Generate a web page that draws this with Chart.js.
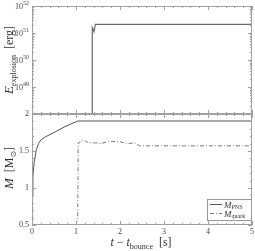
<!DOCTYPE html>
<html><head><meta charset="utf-8">
<script src="https://cdn.jsdelivr.net/npm/chart.js@4/dist/chart.umd.min.js"></script>
<style>
html,body{margin:0;padding:0;background:#fff;}
#wrap{position:relative;width:255px;height:251px;}
canvas{position:absolute;left:0;top:0;}
</style></head>
<body><div id="wrap"><canvas id="c1" width="255" height="251"></canvas><canvas id="c2" width="255" height="251"></canvas></div>
<script>
// ---- data ----
const tExp = [1.37, 1.37, 1.41, 1.44, 5];
const eExp = [1e48, 1.6e51, 1.1e51, 2.1e51, 2.1e51];
const tPNS = [0, 0.02, 0.05, 0.1, 0.15, 0.2, 0.3, 0.5, 0.75, 1.04, 2, 3, 4, 5];
const mPNS = [0.88, 1.15, 1.35, 1.52, 1.6, 1.65, 1.69, 1.75, 1.83, 1.905, 1.905, 1.905, 1.905, 1.905];
const tQuark = [1.0, 1.04, 1.05, 1.1, 1.16, 1.22, 1.31, 1.45, 1.55, 1.77, 1.96, 2.18, 2.33, 2.45, 3, 4, 5];
const mQuark = [0.5, 0.6, 1.61, 1.62, 1.65, 1.63, 1.61, 1.61, 1.6, 1.63, 1.63, 1.6, 1.61, 1.57, 1.57, 1.57, 1.57];
const xTicks = [0, 1, 2, 3, 4, 5];
const eTickExps = [52, 51, 50, 49];
const mTicks = [0.5, 1, 1.5, 2];
const legendLabels = [['M', 'PNS'], ['M', 'quark']];

const SERIF = '"Liberation Serif","DejaVu Serif",serif';
const FRAME = '#a0a0a0';
const TXT = '#444';

function pts(xs, ys){ return xs.map((x,i)=>({x, y: ys[i]})); }

function drawFrameTicks(chart, yMajor, yMinor){
  const ctx = chart.ctx, a = chart.chartArea, xs = chart.scales.x, ys = chart.scales.y;
  ctx.save();
  ctx.strokeStyle = FRAME; ctx.lineWidth = 1;
  ctx.strokeRect(Math.round(a.left)+0.5, Math.round(a.top)+0.5, Math.round(a.right-a.left)-1, Math.round(a.bottom-a.top)-1);
  ctx.beginPath();
  for (let v = 0; v <= 5.0001; v += 0.2) {
    const px = Math.round(xs.getPixelForValue(v)) + 0.5;
    const major = Math.abs(v - Math.round(v)) < 1e-6;
    const L = major ? 4 : 2;
    ctx.moveTo(px, a.bottom); ctx.lineTo(px, a.bottom - L);
    ctx.moveTo(px, a.top); ctx.lineTo(px, a.top + L);
  }
  yMajor.forEach(v=>{ const py = Math.round(ys.getPixelForValue(v))+0.5;
    ctx.moveTo(a.left, py); ctx.lineTo(a.left+4, py);
    ctx.moveTo(a.right, py); ctx.lineTo(a.right-4, py); });
  yMinor.forEach(v=>{ const py = Math.round(ys.getPixelForValue(v))+0.5;
    ctx.moveTo(a.left, py); ctx.lineTo(a.left+2, py);
    ctx.moveTo(a.right, py); ctx.lineTo(a.right-2, py); });
  ctx.stroke();
  ctx.restore();
}

function richWidth(ctx, parts){ let w=0; parts.forEach(p=>{ctx.font=p.font; w+=ctx.measureText(p.t).width;}); return w; }
function drawRich(ctx, parts, x, y){ let cx=x; parts.forEach(p=>{ctx.font=p.font; ctx.fillText(p.t, cx, y+(p.dy||0)); cx+=ctx.measureText(p.t).width;}); }

const topPlugin = {
  id:'topDeco',
  afterDraw(chart){
    const ctx = chart.ctx, ys = chart.scales.y;
    const minor = [];
    for (let d=48; d<52; d++) for (let m=2; m<=9; m++) minor.push(m*Math.pow(10,d));
    drawFrameTicks(chart, eTickExps.map(e=>Math.pow(10,e)), minor);
    ctx.save(); ctx.fillStyle = TXT; ctx.textBaseline = 'alphabetic'; ctx.textAlign='left';
    eTickExps.forEach(e=>{
      const py = ys.getPixelForValue(Math.pow(10,e));
      const parts = [{t:'10', font:'8px '+SERIF, dy:0},{t:String(e), font:'6px '+SERIF, dy:-4}];
      const w = richWidth(ctx, parts);
      drawRich(ctx, parts, 29 - w, py + 3);
    });
    ctx.translate(13, 60); ctx.rotate(-Math.PI/2);
    const tparts = [{t:'E', font:'italic 13px '+SERIF, dy:0},{t:'explosion', font:'8px '+SERIF, dy:3},{t:'  [erg]', font:'12px '+SERIF, dy:0}];
    const tw = richWidth(ctx, tparts);
    ctx.fillStyle = '#333';
    drawRich(ctx, tparts, -tw/2, 0);
    ctx.restore();
  }
};

const botPlugin = {
  id:'botDeco',
  afterDraw(chart){
    const ctx = chart.ctx, xs = chart.scales.x, ys = chart.scales.y, a = chart.chartArea;
    const minor = []; for (let v=0.6; v<2; v+=0.1) minor.push(v);
    drawFrameTicks(chart, mTicks, minor);
    ctx.save(); ctx.fillStyle = TXT; ctx.font = '8px '+SERIF;
    ctx.textAlign = 'right'; ctx.textBaseline = 'middle';
    mTicks.forEach(v=>{ ctx.fillText(String(v), 29, ys.getPixelForValue(v)); });
    ctx.textAlign = 'center'; ctx.textBaseline = 'top';
    xTicks.forEach(v=>{ ctx.fillText(String(v), xs.getPixelForValue(v), 228); });
    ctx.textAlign='left'; ctx.textBaseline='alphabetic'; ctx.fillStyle='#333';
    const xparts = [{t:'t', font:'italic 12px '+SERIF},{t:' \u2212 ', font:'12px '+SERIF},{t:'t', font:'italic 12px '+SERIF},{t:'bounce', font:'8px '+SERIF, dy:3},{t:'  [s]', font:'12px '+SERIF}];
    const xw = richWidth(ctx, xparts);
    drawRich(ctx, xparts, 141 - xw/2, 246);
    ctx.save();
    ctx.translate(13, 168); ctx.rotate(-Math.PI/2);
    const yparts = [{t:'M', font:'italic 13px '+SERIF},{t:'  [M', font:'12px '+SERIF},{t:'\u2299', font:'8px "DejaVu Sans",sans-serif', dy:3},{t:']', font:'12px '+SERIF}];
    const yw = richWidth(ctx, yparts);
    drawRich(ctx, yparts, -yw/2, 0);
    ctx.restore();
    // legend
    const lx = 207, ly = 199, lw = a.right - lx, lh = 21;
    ctx.fillStyle='#fff'; ctx.fillRect(lx+0.5, ly+0.5, lw-1, lh);
    ctx.strokeStyle='#999'; ctx.lineWidth=1; ctx.strokeRect(lx+0.5, ly+0.5, lw-1, lh);
    const ds = chart.data.datasets;
    legendLabels.forEach((lab, i)=>{
      const yy = ly + 5.5 + i*9;
      ctx.beginPath(); ctx.strokeStyle = ds[i].borderColor; ctx.lineWidth = ds[i].borderWidth;
      ctx.setLineDash(ds[i].borderDash || []);
      ctx.moveTo(210, yy); ctx.lineTo(222, yy); ctx.stroke(); ctx.setLineDash([]);
      ctx.fillStyle='#333';
      drawRich(ctx, [{t:lab[0], font:'italic 9px '+SERIF},{t:lab[1], font:'6px '+SERIF, dy:1.5}], 224, yy+3);
    });
    ctx.restore();
  }
};

Chart.defaults.font.family = SERIF;
new Chart(document.getElementById('c1'), {
  type:'line',
  data:{datasets:[{data: pts(tExp, eExp), borderColor:'#6a6a6a', borderWidth:1.2, pointRadius:0, tension:0, fill:false}]},
  options:{responsive:false, animation:false, devicePixelRatio:1,
    layout:{padding:{left:32, right:3, top:6, bottom:137}},
    plugins:{legend:{display:false}, tooltip:{enabled:false}},
    scales:{x:{type:'linear', min:0, max:5, display:false},
            y:{type:'logarithmic', min:1e48, max:1e52, display:false}}},
  plugins:[topPlugin]
});
new Chart(document.getElementById('c2'), {
  type:'line',
  data:{datasets:[
    {data: pts(tPNS, mPNS), borderColor:'#555', borderWidth:1, pointRadius:0, tension:0, fill:false},
    {data: pts(tQuark, mQuark), borderColor:'#777', borderWidth:1, borderDash:[4,2,1,2], pointRadius:0, tension:0, fill:false}
  ]},
  options:{responsive:false, animation:false, devicePixelRatio:1,
    layout:{padding:{left:32, right:3, top:114, bottom:26}},
    plugins:{legend:{display:false}, tooltip:{enabled:false}},
    scales:{x:{type:'linear', min:0, max:5, display:false},
            y:{type:'linear', min:0.5, max:2, display:false}}},
  plugins:[botPlugin]
});
</script></body></html>
